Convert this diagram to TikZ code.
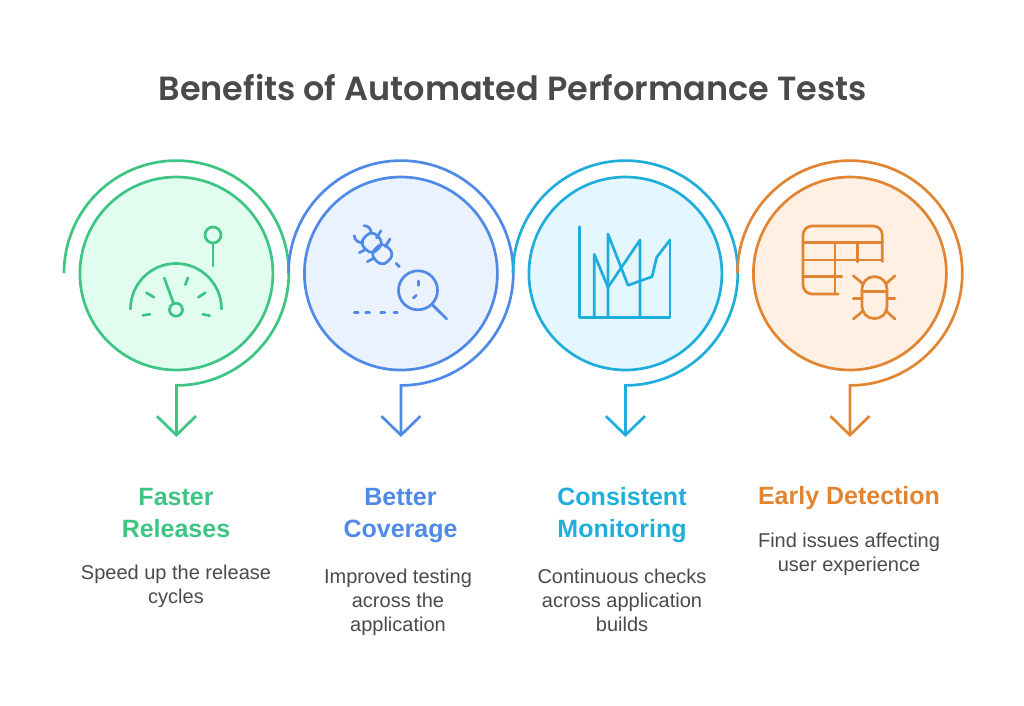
\documentclass[tikz,border=0pt]{standalone}
\usepackage{fontspec}
\setmainfont{Liberation Sans}
\newfontfamily\titlefont{Poppins SemiBold}
\usetikzlibrary{arrows.meta,positioning}

\definecolor{greenline}{HTML}{3CC583}
\definecolor{greenfill}{HTML}{E1FDF0}
\definecolor{blueline}{HTML}{4F8AE8}
\definecolor{bluefill}{HTML}{EAF2FE}
\definecolor{cyanline}{HTML}{1FAEDC}
\definecolor{cyanfill}{HTML}{E4F7FF}
\definecolor{orangeline}{HTML}{E28532}
\definecolor{orangefill}{HTML}{FFF0E3}
\definecolor{inktext}{HTML}{4A4A4A}

\tikzset{
  disc/.style={circle,draw,line width=2.7pt,minimum size=193pt,inner sep=0pt},
  sweep/.style={line width=2.7pt,-{Straight Barb[length=19pt,width=39pt,line width=2.7pt]}},
  icon/.style={line width=2.7pt,line cap=round,line join=round},
  headline/.style={align=center,inner sep=0pt,font=\fontsize{25}{32}\selectfont\bfseries},
  blurb/.style={align=center,inner sep=0pt,text=inktext,font=\fontsize{20}{24}\selectfont}
}

\begin{document}
\begin{tikzpicture}[x=1pt,y=-1pt,on grid]
  \useasboundingbox (0,0) rectangle (1024,705);
  \node[inner sep=0pt,text=inktext,font=\titlefont\fontsize{33.5}{40}\selectfont] (title) at (512.5,88) {Benefits of Automated Performance Tests};

  % rings and arrows
  \coordinate (start1) at (64,273);
  \coordinate (start2) at (288.5,273);
  \coordinate (start3) at (513,273);
  \coordinate (start4) at (737.5,273);
  \coordinate (tip1) at (176.4,437);
  \coordinate (tip2) at (400.9,437);
  \coordinate (tip3) at (625.4,437);
  \coordinate (tip4) at (849.9,437);
  \draw[sweep,greenline] (start1) arc[start angle=180,end angle=450,radius=112.4] -- (tip1);
  \draw[sweep,blueline] (start2) arc[start angle=180,end angle=450,radius=112.4] -- (tip2);
  \draw[sweep,cyanline] (start3) arc[start angle=180,end angle=450,radius=112.4] -- (tip3);
  \draw[sweep,orangeline] (start4) arc[start angle=180,end angle=450,radius=112.4] -- (tip4);
  \node[disc,draw=greenline,fill=greenfill] (disc1) at (176.4,273.5) {};
  \node[disc,draw=blueline,fill=bluefill] (disc2) at (400.9,273.5) {};
  \node[disc,draw=cyanline,fill=cyanfill] (disc3) at (625.4,273.5) {};
  \node[disc,draw=orangeline,fill=orangefill] (disc4) at (849.9,273.5) {};

  % gauge
  \draw[icon,greenline] (130.5,309) arc[start angle=180,end angle=360,radius=45.5];
  \draw[icon,greenline] (176,309.7) circle[radius=6.5];
  \draw[icon,greenline] (164.3,278) -- (173.3,302.7);
  \draw[icon,greenline] (213,235) circle[radius=8];
  \draw[icon,greenline] (213,243) -- (213,266);
  \draw[icon,greenline] (146.3,292.7) -- (154,297.3);
  \draw[icon,greenline] (188,277.7) -- (185.3,284.7);
  \draw[icon,greenline] (205.3,292.7) -- (198.3,297.3);
  \draw[icon,greenline] (143,315.3) -- (150,314.3);
  \draw[icon,greenline] (202.7,314.3) -- (209.7,315.7);

  % bug and magnifier
  \draw[icon,blueline,rounded corners=7pt,rotate around={45:(371.7,242.7)}] (362.9,233.9) rectangle (380.5,251.5);
  \draw[icon,blueline,rounded corners=7pt,rotate around={45:(382.3,254.3)}] (373.5,245.5) rectangle (391.1,263.1);
  \draw[icon,blueline] (381,230.7) -- (376.5,238);
  \draw[icon,blueline] (390,239) -- (385.3,246.5);
  \draw[icon,blueline] (359.3,252.7) -- (365,249.7);
  \draw[icon,blueline] (367.3,261.7) -- (373.5,258.3);
  \draw[icon,blueline] (364,225.7) .. controls (369,226) and (371,229) .. (371,232.5);
  \draw[icon,blueline] (354.3,235.7) .. controls (354.5,240) and (358,243) .. (363,242.7);
  \draw[icon,blueline] (396,263.3) -- (399.3,266.7);
  \draw[icon,blueline] (418,290.3) circle[radius=19.5];
  \draw[icon,blueline] (432.3,304.7) -- (446.7,319);
  \draw[icon,blueline] (418.3,281) -- (418.3,285.3);
  \draw[icon,blueline] (413.3,298) -- (416.3,295.3);
  \draw[icon,blueline] (354.3,312.3) -- (358.3,312.3);
  \draw[icon,blueline] (365.7,312.3) -- (369.7,312.3);
  \draw[icon,blueline] (380.7,312.3) -- (384.7,312.3);
  \draw[icon,blueline] (394,312.3) -- (397.3,312.3);

  % chart
  \draw[icon,cyanline] (579.7,226.7) -- (579.7,317.3) -- (670,317.3) -- (670,240);
  \draw[icon,cyanline] (594.3,317.3) -- (594.3,254.3) -- (608,287.3) -- (640,240) -- (640,317.3);
  \draw[icon,cyanline] (608,317.3) -- (608,234) -- (628,285.3) -- (652,276.7) -- (656.7,257.3) -- (670,240);

  % table and bug
  \draw[icon,orangeline,rounded corners=9pt] (882.3,261.7) -- (882.3,226) -- (803,226) -- (803,294) -- (838.3,294);
  \draw[icon,orangeline] (803,242.3) -- (882.3,242.3);
  \draw[icon,orangeline] (803,260) -- (882.3,260);
  \draw[icon,orangeline] (803,276.7) -- (841.7,276.7);
  \draw[icon,orangeline] (835,242.3) -- (835,294);
  \draw[icon,orangeline] (857.7,242.3) -- (857.7,262);
  \draw[icon,orangeline,rounded corners=12pt] (862,276.7) rectangle (887,318.5);
  \draw[icon,orangeline] (862,291.7) -- (887,291.7);
  \draw[icon,orangeline] (853.3,275.7) -- (863.3,284);
  \draw[icon,orangeline] (895,275.7) -- (885.7,284);
  \draw[icon,orangeline] (853.3,298.7) -- (862,298.7);
  \draw[icon,orangeline] (887,298.7) -- (895,298.7);
  \draw[icon,orangeline] (853.3,319) -- (863.3,310.7);
  \draw[icon,orangeline] (895,319) -- (885.7,310.7);

  % labels
  \node[headline,text=greenline] (head1) at (176,513) {Faster\\Releases};
  \node[headline,text=blueline] (head2) at (400.5,515.5) {Better\\Coverage};
  \node[headline,text=cyanline] (head3) at (622,515) {Consistent\\Monitoring};
  \node[headline,text=orangeline] (head4) at (849,498) {Early Detection};
  \node[blurb] (blurb1) [below=73pt of head1] {Speed up the release\\cycles};
  \node[blurb] (blurb2) [below=86.5pt of head2,xshift=-2.5pt] {Improved testing\\across the\\application};
  \node[blurb] (blurb3) [below=85pt of head3] {Continuous checks\\across application\\builds};
  \node[blurb] (blurb4) [below=56pt of head4] {Find issues affecting\\user experience};
\end{tikzpicture}
\end{document}
